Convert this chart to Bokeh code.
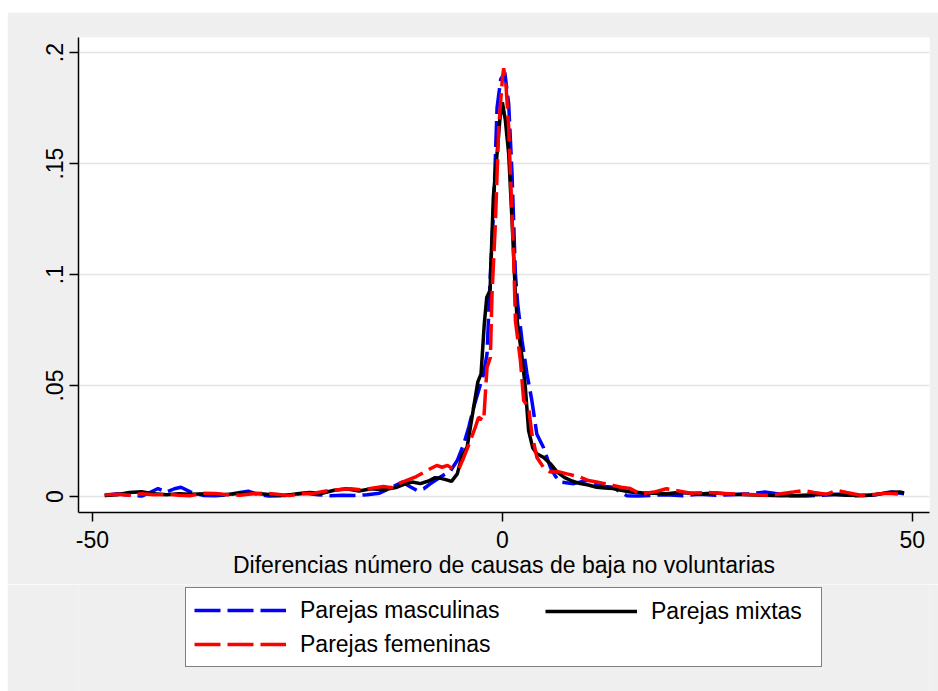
from bokeh.plotting import figure
from bokeh.layouts import column
from bokeh.models import Range1d, FixedTicker, Legend, LegendItem
from bokeh.embed import file_html
from bokeh.resources import INLINE

# ---------------- data ----------------
x_masc = [-48.5, -47, -45.5, -44, -43, -42, -41, -40, -39.2, -38, -36.5, -35, -33.5, -32, -31, -30,
          -28.5, -27, -25.5, -24, -22.5, -21, -19.5, -18, -16.5, -15, -13.8, -13, -12.2, -11.3, -10.4,
          -9.6, -8.8, -7.6, -6.3, -5.5, -4.7, -4.1, -3.5, -2.9, -2.28, -1.87, -1.46, -1.06, -0.65, -0.2,
          0.3, 0.77, 1.18, 1.59, 1.87, 2.4, 3.0, 3.6, 4.2, 5.0, 5.85, 6.5, 7.1, 8.7, 10.3, 11.5, 12.5,
          13.5, 14.5, 15.2, 16.5, 18, 20, 22, 24, 26, 28, 30, 32, 33.5, 35, 37, 39, 41, 43, 45, 46.5,
          47.5, 49]
y_masc = [0.0005, 0.0012, 0.0006, 0.0002, 0.0018, 0.0036, 0.0020, 0.0035, 0.0042, 0.0020, 0.0005,
          0.0003, 0.0008, 0.0018, 0.0024, 0.0012, 0.0002, 0.0004, 0.0010, 0.0015, 0.0008, 0.0004,
          0.0006, 0.0005, 0.0008, 0.0015, 0.0035, 0.0050, 0.0065, 0.0045, 0.0027, 0.0035, 0.0057,
          0.0087, 0.0117, 0.0162, 0.0237, 0.0312, 0.0402, 0.0477, 0.0553, 0.0643, 0.1003, 0.1303,
          0.175, 0.188, 0.191, 0.177, 0.1455, 0.1003, 0.0868, 0.0703, 0.0553, 0.0432, 0.0282, 0.0222,
          0.0132, 0.0090, 0.0065, 0.0058, 0.0072, 0.0055, 0.0045, 0.0042, 0.0018, 0.0003, 0.0002,
          0.0005, 0.0008, 0.0004, 0.0010, 0.0006, 0.0008, 0.0012, 0.0020, 0.0012, 0.0004, 0.0002,
          0.0006, 0.0010, 0.0004, 0.0006, 0.0015, 0.0020, 0.0012]

x_mixt = [-48.5, -47, -45.5, -44, -42.5, -41, -39.5, -38, -36, -34, -32, -30, -28, -26.5, -25, -23.5,
          -22, -20.5, -19, -17.5, -16, -14.5, -13, -12, -11, -10, -9, -8.2, -7.5, -6.8, -6.2, -5.5,
          -4.9, -4.3, -3.5, -3.0, -2.6, -2.2, -1.9, -1.5, -1.1, -0.65, -0.3, 0.0, 0.35, 0.77, 1.18,
          1.59, 1.85, 2.4, 2.8, 3.2, 3.7, 4.2, 5.0, 5.85, 6.7, 7.6, 8.5, 9.5, 10.5, 11.5, 12.5, 13.5,
          14.5, 15.6, 17, 18.5, 20, 21.5, 23, 24.5, 26, 28, 30, 32, 34, 36, 38, 40, 42, 44, 45.5, 47,
          48.5, 49]
y_mixt = [0.0005, 0.0008, 0.0018, 0.0022, 0.0012, 0.0008, 0.0012, 0.0010, 0.0012, 0.0008, 0.0015,
          0.0014, 0.0008, 0.0005, 0.0012, 0.0018, 0.0015, 0.0028, 0.0035, 0.0025, 0.0035, 0.0030,
          0.0040, 0.0055, 0.0065, 0.0058, 0.0070, 0.0085, 0.0082, 0.0075, 0.0068, 0.0102, 0.0185,
          0.0222, 0.0402, 0.0515, 0.0553, 0.0780, 0.0898, 0.0928, 0.135, 0.1544, 0.170, 0.1776,
          0.170, 0.1544, 0.1243, 0.0913, 0.0778, 0.0627, 0.0492, 0.0297, 0.0220, 0.0193, 0.0177,
          0.0148, 0.0110, 0.0085, 0.0070, 0.0058, 0.0052, 0.0042, 0.0038, 0.0036, 0.0028, 0.0020,
          0.0017, 0.0015, 0.0012, 0.0018, 0.0015, 0.0012, 0.0016, 0.0010, 0.0008, 0.0006, 0.0004,
          0.0005, 0.0008, 0.0010, 0.0006, 0.0005, 0.0008, 0.0018, 0.0020, 0.0016]

x_fem = [-48.5, -47, -45.5, -44, -42.5, -41, -39.5, -38, -36.5, -35, -33.5, -32, -30.5, -29, -27.5,
         -26, -24.5, -23, -21.5, -20, -18.5, -17, -15.5, -14.5, -13.5, -12.5, -11.5, -10.5, -9.5,
         -8.8, -8.0, -7.35, -6.7, -6.0, -5.3, -4.7, -3.9, -3.3, -2.9, -2.28, -1.87, -1.46, -1.26,
         -0.85, -0.45, 0.0, 0.16, 0.45, 0.77, 1.06, 1.38, 1.59, 1.79, 2.2, 2.6, 3.2, 3.6, 4.2, 5.0,
         5.85, 6.8, 7.9, 8.7, 9.5, 10.5, 11.5, 12.5, 13.5, 14.5, 15.6, 16.8, 18.5, 20, 21.5, 23, 25,
         27, 29, 31, 32.5, 34, 35.5, 36.7, 38, 39.5, 40.8, 42, 43.7, 45.5, 47, 49]
y_fem = [0.0008, 0.0010, 0.0006, 0.0012, 0.0008, 0.0010, 0.0006, 0.0004, 0.0015, 0.0014, 0.0008,
         0.0006, 0.0012, 0.0016, 0.0010, 0.0004, 0.0012, 0.0015, 0.0025, 0.0030, 0.0035, 0.0030,
         0.0040, 0.0045, 0.0040, 0.0060, 0.0075, 0.0090, 0.0110, 0.0125, 0.0140, 0.0132, 0.0140,
         0.0125, 0.0125, 0.0177, 0.0252, 0.0312, 0.0357, 0.0342, 0.0582, 0.0627, 0.0914, 0.123,
         0.166, 0.188, 0.193, 0.185, 0.1664, 0.138, 0.1078, 0.0793, 0.0733, 0.0613, 0.0432, 0.0402,
         0.0282, 0.0177, 0.0132, 0.0110, 0.0112, 0.0102, 0.0095, 0.0087, 0.0072, 0.0065, 0.0058,
         0.0050, 0.0042, 0.0036, 0.0012, 0.0020, 0.0035, 0.0025, 0.0015, 0.0018, 0.0014, 0.0010,
         0.0008, 0.0005, 0.0012, 0.0020, 0.0027, 0.0018, 0.0010, 0.0027, 0.0018, 0.0006, 0.0010,
         0.0015, 0.0010]

xtick_vals = [-50, 0, 50]
xtick_labels = ["-50", "0", "50"]
ytick_vals = [0, 0.05, 0.1, 0.15, 0.2]
ytick_labels = ["0", ".05", ".1", ".15", ".2"]
x_title = "Diferencias número de causas de baja no voluntarias"
labels = ["Parejas masculinas", "Parejas mixtas", "Parejas femeninas"]

# ---------------- styles ----------------
FONT = "Liberation Sans"
BG = "#efefef"
BLUE, BLACK, RED = "#0000ff", "black", "#ff0000"
DASH = "26 7"
LW = 3.5

# ---------------- main plot ----------------
p = figure(width=931, height=572, output_backend="svg", toolbar_location=None,
           x_range=Range1d(-51.7, 52.1), y_range=Range1d(-0.0072, 0.2068),
           min_border_left=71, min_border_right=9, min_border_top=25, min_border_bottom=72,
           background_fill_color="white", border_fill_color=BG, outline_line_color=None)

p.xgrid.visible = False
p.ygrid.grid_line_color = "#e4e4e4"
p.ygrid.grid_line_width = 1.5
p.ygrid.ticker = FixedTicker(ticks=ytick_vals)

for ax in (p.xaxis[0], p.yaxis[0]):
    ax.axis_line_color = "black"
    ax.axis_line_width = 1.5
    ax.major_tick_line_color = "black"
    ax.major_tick_line_width = 1.5
    ax.major_tick_out = 9
    ax.major_tick_in = 0
    ax.minor_tick_line_color = None
    ax.major_label_text_font = FONT
    ax.major_label_text_font_size = "23px"
    ax.major_label_text_color = "black"

p.xaxis.ticker = FixedTicker(ticks=xtick_vals)
p.xaxis.major_label_overrides = dict(zip(xtick_vals, xtick_labels))
p.xaxis.major_label_standoff = 9
p.xaxis.axis_label = x_title
p.xaxis.axis_label_text_font = FONT
p.xaxis.axis_label_text_font_size = "23px"
p.xaxis.axis_label_text_font_style = "normal"
p.xaxis.axis_label_text_color = "black"
p.xaxis.axis_label_standoff = 1

p.yaxis.ticker = FixedTicker(ticks=ytick_vals)
p.yaxis.major_label_overrides = dict(zip(ytick_vals, ytick_labels))
p.yaxis.major_label_orientation = "vertical"
p.yaxis.major_label_standoff = 6

p.line(x_masc, y_masc, line_color=BLUE, line_width=LW, line_dash=DASH)
p.line(x_mixt, y_mixt, line_color=BLACK, line_width=LW)
p.line(x_fem, y_fem, line_color=RED, line_width=LW, line_dash=DASH)

# ---------------- legend strip ----------------
q = figure(width=931, height=107, output_backend="svg", toolbar_location=None,
           x_range=Range1d(0, 1), y_range=Range1d(0, 1), x_axis_type=None, y_axis_type=None,
           min_border=0, background_fill_color=BG, border_fill_color=BG, outline_line_color=None)
q.grid.visible = False
nan = float("nan")
k_masc = q.line([nan], [nan], line_color=BLUE, line_width=LW, line_dash=DASH)
k_mixt = q.line([nan], [nan], line_color=BLACK, line_width=LW)
k_fem = q.line([nan], [nan], line_color=RED, line_width=LW, line_dash=DASH)

common = dict(orientation="vertical", padding=8, spacing=6, glyph_width=92, glyph_height=28,
              label_height=28, label_standoff=14, label_text_font=FONT,
              label_text_font_size="23px", label_text_color="black", margin=0)

legend_a = Legend(items=[LegendItem(label=labels[0], renderers=[k_masc]),
                         LegendItem(label=labels[2], renderers=[k_fem])],
                  location=(107, 24), border_line_color="black", border_line_width=1.5,
                  background_fill_color="white", background_fill_alpha=1.0,
                  label_width=513, **common)
legend_b = Legend(items=[LegendItem(label=labels[1], renderers=[k_mixt])],
                  location=(467, 66), border_line_color=None, background_fill_alpha=0.0,
                  label_width=20, **common)
q.add_layout(legend_a)
q.add_layout(legend_b)

layout = column(p, q, spacing=0, margin=(12, 0, 0, 7))
open("out.html", "w").write(file_html(layout, INLINE))
